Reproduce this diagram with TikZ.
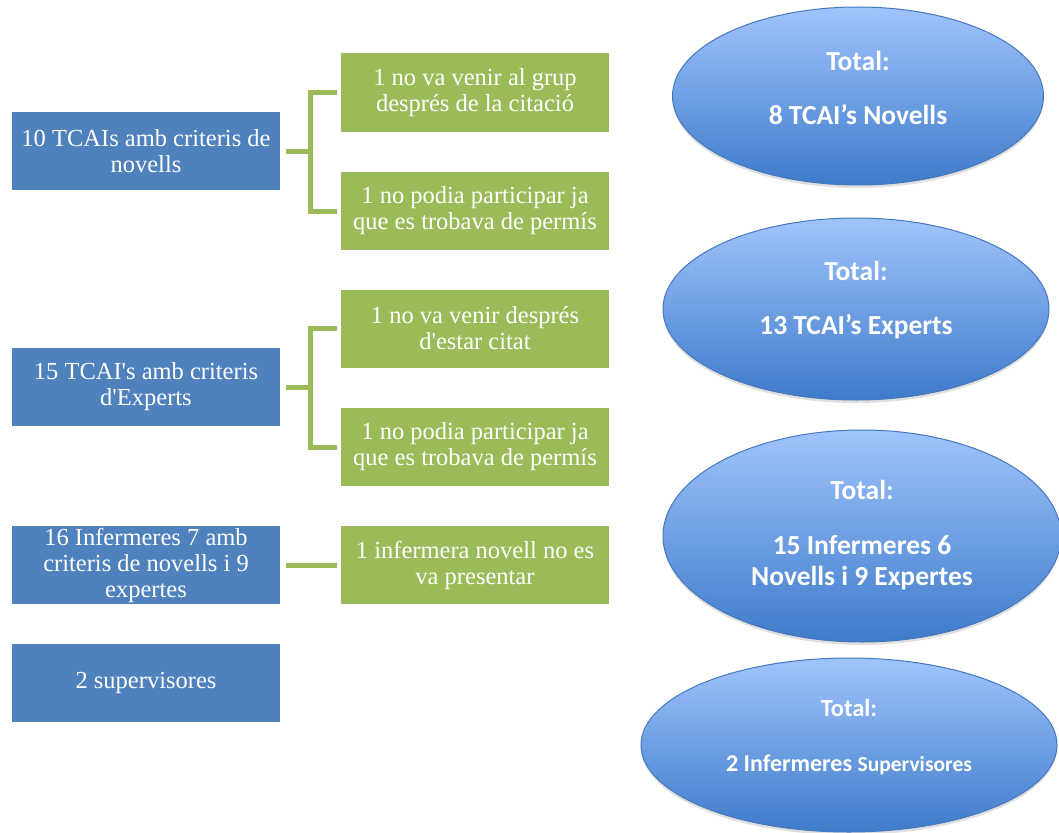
\documentclass[tikz,border=0pt]{standalone}
\usepackage{fontspec}
\setmainfont{Liberation Serif}
\newfontfamily\calibri{Carlito}
\usetikzlibrary{positioning, shapes.geometric, shadows}
\definecolor{grupblue}{RGB}{79,129,189}
\definecolor{causegreen}{RGB}{155,187,89}
\definecolor{ovaltop}{RGB}{160,196,252}
\definecolor{ovalbot}{RGB}{62,123,202}
\definecolor{ovalline}{RGB}{70,120,190}
\tikzset{
  grupbox/.style={fill=grupblue, text=white, minimum width=268pt, minimum height=78pt,
    inner sep=0pt, align=center, font=\fontsize{24.5}{26}\selectfont},
  causebox/.style={grupbox, fill=causegreen},
  total/.style={ellipse, draw=ovalline, line width=1pt, inner sep=0pt,
    top color=ovaltop, bottom color=ovalbot,
    drop shadow={opacity=.25, shadow xshift=0pt, shadow yshift=-3pt}},
  totaltext/.style={text=white, align=center, font=\calibri\bfseries\fontsize{27.5}{31}\selectfont},
  brace/.style={draw=causegreen, line width=5pt}
}

\begin{document}
\begin{tikzpicture}[x=1pt, y=-1pt, node distance=118pt, on grid]
    \useasboundingbox (0,0) rectangle (1059,832);
    % groups
		\node[grupbox] (tcain) at (146,151) {10 TCAIs amb criteris de\\novells};
		\node[grupbox] (tcaie) [below=236pt of tcain] {15 TCAI\textquotesingle s amb criteris\\d\textquotesingle Experts};
		\node[grupbox] (inf)   [below=178pt of tcaie] {16 Infermeres 7 amb\\criteris de novells i 9\\expertes};
		\node[grupbox] (sup)   [below=of inf] {2 supervisores};
    % drop-outs
		\node[causebox] (ncita)  [above right=58.5pt and 329pt of tcain] {1 no va venir al grup\\després de la citació};
		\node[causebox] (nperm)  [below=118.5pt of ncita] {1 no podia participar ja\\que es trobava de permís};
		\node[causebox] (ecita)  [above right=58.5pt and 329pt of tcaie] {1 no va venir després\\d\textquotesingle estar citat};
		\node[causebox] (eperm)  [below=118.5pt of ecita] {1 no podia participar ja\\que es trobava de permís};
		\node[causebox] (infnov) [right=329pt of inf] {1 infermera novell no es\\va presentar};
    % totals
		\node[total, minimum width=371pt, minimum height=178pt,
      label={[totaltext, yshift=8pt]center:Total:\\[23pt]8 TCAI’s Novells}] (tnov) at (858,96) {};
		\node[total, minimum width=386pt, minimum height=182pt,
      label={[totaltext, yshift=9pt]center:Total:\\[23pt]13 TCAI’s Experts}] (texp) at (856,309) {};
		\node[total, minimum width=398pt, minimum height=212pt,
      label={[totaltext, yshift=1pt]center:Total:\\[24pt]15 Infermeres 6\\Novells i 9 Expertes}] (tinf) at (862,536) {};
		\node[total, minimum width=416pt, minimum height=174pt,
      label={[totaltext, yshift=8pt, font=\calibri\bfseries\fontsize{24.5}{28}\selectfont]center:Total:\\[27pt]{\fontsize{24}{28}\selectfont 2 Infermeres} {\fontsize{21.5}{28}\selectfont Supervisores}}] (tsup) at (849,745) {};

    \draw[brace] ([xshift=6pt]tcain.east) -- ++(24pt,0);
    \draw[brace] ([xshift=-4pt]ncita.west) -| ([xshift=30pt]tcain.east) |- ([xshift=-4pt]nperm.west);
    \draw[brace] ([xshift=6pt]tcaie.east) -- ++(24pt,0);
    \draw[brace] ([xshift=-4pt]ecita.west) -| ([xshift=30pt]tcaie.east) |- ([xshift=-4pt]eperm.west);
    \draw[brace] ([xshift=6pt]inf.east) -- ([xshift=-4pt]infnov.west);
    \end{tikzpicture}
\end{document}
